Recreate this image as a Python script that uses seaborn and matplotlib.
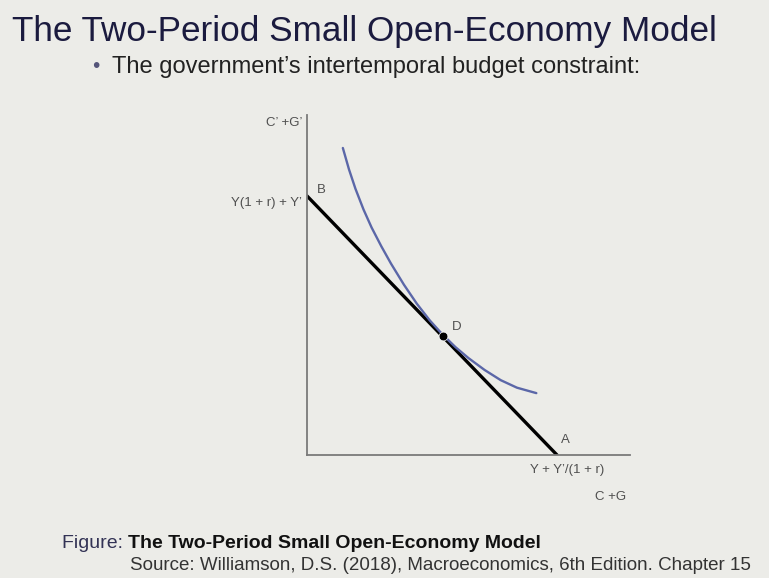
import matplotlib
matplotlib.use("Agg")
import matplotlib.pyplot as plt
import seaborn as sns
import pandas as pd

# ---- data (axis units 0..10) ----
budget_x = [0.0, 7.74]
budget_y = [7.62, 0.0]
curve_x = [1.11, 1.3, 1.5, 1.75, 2.0, 2.3, 2.6, 3.0, 3.4, 3.8, 4.2, 4.6, 5.0, 5.5, 6.0, 6.5, 7.1]
curve_y = [9.03, 8.40, 7.83, 7.22, 6.69, 6.14, 5.63, 5.01, 4.45, 3.96, 3.54, 3.17, 2.85, 2.50, 2.20, 1.98, 1.82]
point_D = (4.2, 3.5)
point_labels = ["B", "D", "A"]
y_axis_label = "C’ +G’"
x_axis_label = "C +G"
y_intercept_label = "Y(1 + r) + Y’"
x_intercept_label = "Y + Y’/(1 + r)"

BG = "#ecece8"
sns.set_theme(style="white")
plt.rcParams["font.family"] = ["Liberation Sans", "DejaVu Sans"]

fig = plt.figure(figsize=(7.69, 5.78), dpi=100, facecolor=BG)
ax = fig.add_axes([307/769, 1-455/578, (630-307)/769, (455-115)/578])
ax.set_facecolor(BG)

budget = pd.DataFrame({"x": budget_x, "y": budget_y})
curve = pd.DataFrame({"x": curve_x, "y": curve_y})
sns.lineplot(data=budget, x="x", y="y", ax=ax, color="black", lw=2.4, sort=False)
sns.lineplot(data=curve, x="x", y="y", ax=ax, color="#5b67a8", lw=1.7, sort=False)
sns.scatterplot(x=[point_D[0]], y=[point_D[1]], ax=ax, color="black", s=40, zorder=5)

ax.set_xlim(0, 10)
ax.set_ylim(0, 10)
ax.set_xticks([]); ax.set_yticks([])
ax.set_xlabel(""); ax.set_ylabel("")
for s in ["top", "right"]:
    ax.spines[s].set_visible(False)
for s in ["left", "bottom"]:
    ax.spines[s].set_color("#7a7a7a")
    ax.spines[s].set_linewidth(1.3)

lc = "#505050"
lab = dict(color=lc, fontsize=9.5, family=["Liberation Sans Narrow", "Liberation Sans", "DejaVu Sans"])
ax.text(-0.15, 9.75, y_axis_label, ha="right", va="center", **lab)
ax.text(-0.15, 7.4, y_intercept_label, ha="right", va="center", **lab)
ax.text(0.3, 7.8, point_labels[0], ha="left", va="center", **lab)
ax.text(point_D[0] + 0.3, 3.75, point_labels[1], ha="left", va="center", **lab)
ax.text(7.85, 0.45, point_labels[2], ha="left", va="center", **lab)
ax.text(8.05, -0.44, x_intercept_label, ha="center", va="center", **lab)
ax.text(9.4, -1.23, x_axis_label, ha="center", va="center", **lab)

# slide texts
fig.text(12/769, 1-31/578, "The Two-Period Small Open-Economy Model",
         ha="left", va="center", fontsize=25.3, color="#1b1b3f")
fig.text(92/769, 1-67/578, "•", ha="left", va="center", fontsize=15, color="#55557a")
fig.text(112/769, 1-67/578, "The government’s intertemporal budget constraint:",
         ha="left", va="center", fontsize=17, color="#222222")
t1 = fig.text(62/769, 1-543/578, "Figure: ", ha="left", va="center", fontsize=14, color="#333355")
fig.canvas.draw()
bb = t1.get_window_extent()
fig.text(bb.x1/769, 1-543/578, "The Two-Period Small Open-Economy Model",
         ha="left", va="center", fontsize=14, color="#111111", fontweight="bold")
fig.text(130/769, 1-566/578, "Source: Williamson, D.S. (2018), Macroeconomics, 6th Edition. Chapter 15",
         ha="left", va="center", fontsize=13.5, color="#333333")

fig.savefig("out.png", dpi=100, facecolor=BG)
